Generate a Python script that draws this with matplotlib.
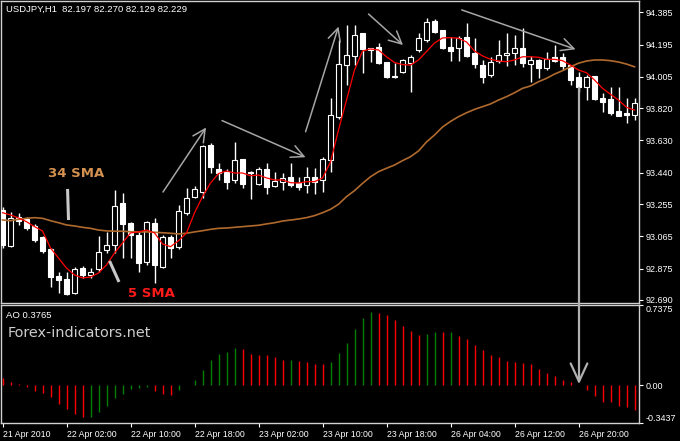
import numpy as np
import matplotlib.pyplot as plt

plt.rcParams['font.family'] = ['Liberation Sans', 'DejaVu Sans']

# USDJPY H1, 80 bars from 21 Apr 18:00
opens = [93.220, 93.008, 93.179, 93.167, 93.126, 93.061, 92.990, 92.831, 92.814, 92.731,
         92.878, 92.837, 92.873, 92.985, 93.014, 93.261, 93.144, 93.073, 92.914, 93.144,
         92.884, 93.061, 93.002, 93.203, 93.297, 93.326, 93.603, 93.462, 93.444, 93.397,
         93.521, 93.444, 93.373, 93.462, 93.362, 93.385, 93.415, 93.379, 93.367, 93.415,
         93.397, 93.515, 93.768, 94.074, 94.128, 94.263, 94.175, 94.181, 94.092, 94.010,
         94.033, 94.086, 94.163, 94.222, 94.334, 94.281, 94.181, 94.175, 94.239, 94.145,
         94.074, 94.016, 94.098, 94.133, 94.145, 94.175, 94.080, 94.104, 94.057, 94.122,
         94.122, 94.074, 94.004, 93.945, 94.010, 93.880, 93.874, 93.803, 93.792, 93.780]
highs = [93.238, 93.208, 93.203, 93.179, 93.138, 93.067, 92.996, 92.855, 92.855, 92.884,
         92.890, 92.878, 93.067, 93.091, 93.338, 93.320, 93.149, 93.091, 93.155, 93.173,
         93.073, 93.073, 93.250, 93.350, 93.362, 93.603, 93.615, 93.497, 93.462, 93.621,
         93.521, 93.450, 93.473, 93.497, 93.444, 93.438, 93.497, 93.415, 93.473, 93.468,
         93.532, 93.880, 94.222, 94.310, 94.310, 94.263, 94.175, 94.204, 94.092, 94.086,
         94.110, 94.133, 94.263, 94.351, 94.346, 94.281, 94.239, 94.245, 94.322, 94.234,
         94.104, 94.122, 94.222, 94.263, 94.251, 94.293, 94.128, 94.110, 94.151, 94.192,
         94.145, 94.074, 94.033, 94.016, 94.010, 93.910, 93.945, 93.945, 93.880, 93.880]
lows = [92.996, 93.002, 93.132, 93.102, 93.032, 92.967, 92.767, 92.731, 92.722, 92.725,
        92.820, 92.820, 92.855, 92.967, 92.967, 92.937, 92.937, 92.855, 92.896, 92.790,
        92.878, 92.937, 92.990, 93.191, 93.291, 93.291, 93.438, 93.397, 93.344, 93.379,
        93.350, 93.285, 93.367, 93.314, 93.356, 93.338, 93.356, 93.338, 93.320, 93.314,
        93.326, 93.444, 93.756, 93.957, 94.074, 94.027, 94.092, 94.080, 93.998, 93.998,
        94.027, 93.915, 94.151, 94.210, 94.263, 94.169, 94.098, 94.098, 94.122, 94.057,
        93.968, 94.004, 94.086, 94.069, 94.074, 94.063, 93.974, 93.998, 94.045, 94.092,
        94.045, 93.957, 93.915, 93.868, 93.868, 93.798, 93.780, 93.774, 93.733, 93.750]
closes = [93.014, 93.173, 93.155, 93.114, 93.043, 92.979, 92.825, 92.808, 92.725, 92.873,
          92.837, 92.855, 92.973, 93.014, 93.244, 93.138, 93.073, 92.908, 93.149, 92.896,
          93.061, 92.996, 93.214, 93.291, 93.344, 93.597, 93.473, 93.438, 93.385, 93.515,
          93.373, 93.438, 93.462, 93.356, 93.391, 93.409, 93.367, 93.356, 93.415, 93.385,
          93.521, 93.780, 94.080, 94.133, 94.251, 94.169, 94.163, 94.086, 94.004, 94.004,
          94.104, 94.122, 94.234, 94.328, 94.269, 94.175, 94.157, 94.234, 94.128, 94.080,
          94.004, 94.092, 94.133, 94.145, 94.175, 94.086, 94.104, 94.057, 94.110, 94.098,
          94.069, 93.986, 93.945, 94.004, 93.874, 93.856, 93.792, 93.774, 93.780, 93.851]

sma5 = [93.204, 93.191, 93.173, 93.151, 93.122, 93.097, 92.996, 92.937, 92.878, 92.837,
        92.820, 92.825, 92.849, 92.896, 92.967, 93.026, 93.085, 93.091, 93.102, 93.085,
        93.020, 93.004, 93.039, 93.085, 93.203, 93.299, 93.379, 93.435, 93.450, 93.438,
        93.438, 93.422, 93.426, 93.409, 93.397, 93.397, 93.381, 93.379, 93.387, 93.387,
        93.409, 93.503, 93.692, 93.868, 94.045, 94.157, 94.169, 94.163, 94.123, 94.089,
        94.077, 94.074, 94.104, 94.154, 94.204, 94.234, 94.236, 94.232, 94.210, 94.157,
        94.128, 94.108, 94.098, 94.094, 94.104, 94.123, 94.123, 94.120, 94.108, 94.108,
        94.100, 94.074, 94.045, 94.029, 93.986, 93.937, 93.902, 93.868, 93.825, 93.809]
sma34 = [93.161, 93.157, 93.165, 93.171, 93.175, 93.171, 93.157, 93.145, 93.132, 93.126,
         93.118, 93.112, 93.102, 93.097, 93.095, 93.095, 93.092, 93.091, 93.091, 93.089,
         93.086, 93.083, 93.079, 93.083, 93.091, 93.098, 93.106, 93.112, 93.114, 93.118,
         93.122, 93.126, 93.130, 93.138, 93.145, 93.155, 93.161, 93.167, 93.175, 93.187,
         93.204, 93.224, 93.254, 93.299, 93.334, 93.377, 93.416, 93.446, 93.466, 93.485,
         93.511, 93.534, 93.568, 93.621, 93.662, 93.709, 93.742, 93.770, 93.793, 93.813,
         93.829, 93.845, 93.868, 93.888, 93.911, 93.937, 93.951, 93.976, 93.996, 94.021,
         94.041, 94.064, 94.085, 94.098, 94.104, 94.104, 94.100, 94.092, 94.080, 94.064]

# Awesome Oscillator histogram, g = rising bar, r = falling bar
ao = [0.073, 0.03, 0.012, -0.01, -0.05, -0.07, -0.11, -0.17, -0.22, -0.26,
      -0.29, -0.285, -0.245, -0.19, -0.115, -0.075, -0.03, -0.025, -0.015, -0.055,
      -0.075, -0.085, -0.04, 0.005, 0.052, 0.144, 0.235, 0.287, 0.306, 0.342,
      0.333, 0.29, 0.281, 0.279, 0.26, 0.235, 0.236, 0.226, 0.211, 0.199,
      0.196, 0.214, 0.30, 0.388, 0.52, 0.618, 0.673, 0.664, 0.642, 0.602,
      0.541, 0.495, 0.465, 0.474, 0.489, 0.486, 0.487, 0.45, 0.425, 0.373,
      0.321, 0.281, 0.257, 0.226, 0.211, 0.21, 0.196, 0.153, 0.119, 0.089,
      0.052, 0.028, 0.008, -0.04, -0.092, -0.147, -0.153, -0.187, -0.193, -0.223]
ao_dir = 'r' * 11 + 'g' * 8 + 'r' * 3 + 'g' * 8 + 'r' * 6 + 'g' + 'r' * 4 + 'g' * 6 + \
         'r' * 6 + 'g' * 2 + 'r' + 'g' + 'r' * 23

price_ticks = [94.385, 94.195, 94.005, 93.820, 93.630, 93.440, 93.255, 93.065, 92.875, 92.690]
ao_ticks = [0.7375, 0.0, -0.3437]
ao_tick_labels = ['0.7375', '0.00', '-0.3437']
time_pos = [0, 8, 16, 24, 32, 40, 48, 56, 64, 72]
time_labels = ['21 Apr 2010', '22 Apr 02:00', '22 Apr 10:00', '22 Apr 18:00', '23 Apr 02:00',
               '23 Apr 10:00', '23 Apr 18:00', '26 Apr 04:00', '26 Apr 12:00', '26 Apr 20:00']

W, H = 680, 441
fig = plt.figure(figsize=(W / 100, H / 100), dpi=100, facecolor='black')
ax = fig.add_axes([1 / W, 1 - 302.5 / H, 638 / W, 301.5 / H], facecolor='black')
ax2 = fig.add_axes([1 / W, 1 - 423 / H, 638 / W, 118 / H], facecolor='black')

x = np.arange(len(opens))
o, h, l, c = map(np.array, (opens, highs, lows, closes))
bull = c >= o

# candles: hollow = up bar, filled = down bar
ax.vlines(x, l, h, color='white', lw=1, zorder=2)
ax.bar(x, np.maximum(np.abs(c - o), 0.002), bottom=np.minimum(o, c), width=0.55,
       color=np.where(bull, 'black', 'white'), edgecolor='white', lw=0.8, zorder=3)
ax.plot(x, sma34, color='#b06a2e', lw=1.2, zorder=4)
ax.plot(x, sma5, color='#ff0000', lw=0.9, zorder=5)

ax.set_xlim(-0.19, 79.56)
ax.set_ylim(92.675, 94.4516)
ax.set_xticks([])
ax.yaxis.tick_right()
ax.set_yticks(price_ticks, ['%.3f' % p for p in price_ticks])
ax.tick_params(axis='y', colors='white', length=3, width=0.8, labelsize=6.5, pad=2)

# annotations
ax.text(9.19, 93.438, '34 SMA', color='#d4914f', fontsize=9.5, fontweight='bold',
        ha='center', va='center', family='DejaVu Sans')
ax.text(18.6, 92.728, '5 SMA', color='#ff1a1a', fontsize=9.5, fontweight='bold',
        ha='center', va='center', family='DejaVu Sans')
ax.plot([8.13, 8.25], [93.344, 93.161], color='#c8c8c8', lw=2.2, solid_capstyle='butt', zorder=6)
ax.plot([13.375, 14.56], [92.920, 92.796], color='#c8c8c8', lw=2.2, solid_capstyle='butt', zorder=6)

arrows = [((20.06, 93.326), (25.44, 93.706)),
          ((27.44, 93.747), (37.88, 93.531)),
          ((37.88, 93.681), (42.0, 94.301)),
          ((45.75, 94.375), (50.06, 94.192)),
          ((57.4, 94.399), (71.63, 94.167))]
for tail, head in arrows:
    ax.annotate('', xy=head, xytext=tail, zorder=6,
                arrowprops=dict(arrowstyle='->,head_length=0.9,head_width=0.45',
                                color='#a6a6a6', lw=1.1, shrinkA=0, shrinkB=0))

fig.text(6 / W, 1 - 9.5 / H, 'USDJPY,H1  82.197 82.270 82.129 82.229', color='white',
         fontsize=6.8, va='center')

# AO panel
ax2.vlines(x, 0, ao, colors=['#008000' if d == 'g' else '#ff0000' for d in ao_dir], lw=1)
ax2.set_xlim(-0.19, 79.56)
ax2.set_ylim(-0.3437, 0.7375)
ax2.yaxis.tick_right()
ax2.set_yticks(ao_ticks, ao_tick_labels)
ax2.tick_params(axis='y', colors='white', length=3, width=0.8, labelsize=6.5, pad=2)
yt = ax2.yaxis.get_major_ticks()
yt[0].label2.set_va('top')
yt[-1].label2.set_va('bottom')
ax2.set_xticks(time_pos, time_labels)
ax2.tick_params(axis='x', colors='white', length=3, width=0.8, labelsize=6.3, pad=2)
for t in ax2.get_xticklabels():
    t.set_ha('left')

ax2.annotate('', xy=(72.06, 0.012), xytext=(72.06, 93.939), textcoords=ax.transData,
             annotation_clip=False,
             arrowprops=dict(arrowstyle='->,head_length=1.3,head_width=0.6',
                             color='#b0b0b0', lw=1.6, shrinkA=0, shrinkB=0))

fig.text(6 / W, 1 - 316 / H, 'AO 0.3765', color='white', fontsize=6.8, va='center')
fig.text(8 / W, 1 - 333 / H, 'Forex-indicators.net', color='#cccccc', fontsize=10.4,
         va='center', family='DejaVu Sans')

for a in (ax, ax2):
    for s in a.spines.values():
        s.set_color('#d0d0d0')
        s.set_linewidth(1)

fig.savefig('out.png', dpi=100, facecolor='black')
